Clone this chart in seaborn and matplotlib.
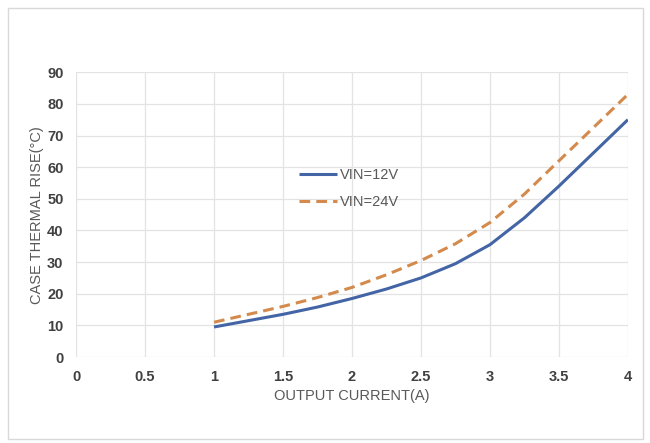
import matplotlib.pyplot as plt
import pandas as pd
import seaborn as sns
from matplotlib.patches import Rectangle

# データ
current = [1, 1.25, 1.5, 1.75, 2, 2.25, 2.5, 2.75, 3, 3.25, 3.5, 3.75, 4]
rise_12v = [9.5, 11.5, 13.5, 15.8, 18.5, 21.5, 25, 29.5, 35.5, 44, 54, 64.5, 75]
rise_24v = [11, 13.5, 16, 18.8, 22, 26, 30.5, 35.8, 42.5, 51.5, 62, 72.5, 83]
series_names = ["VIN=12V", "VIN=24V"]
x_ticks = [0, 0.5, 1, 1.5, 2, 2.5, 3, 3.5, 4]
y_ticks = [0, 10, 20, 30, 40, 50, 60, 70, 80, 90]

df = pd.DataFrame({
    "current": current * 2,
    "rise": rise_12v + rise_24v,
    "vin": [series_names[0]] * len(current) + [series_names[1]] * len(current),
})

sns.set_style("white")
plt.rcParams["font.family"] = ["Liberation Sans Narrow", "Liberation Sans", "DejaVu Sans"]

fig = plt.figure(figsize=(6.5, 4.43), dpi=100)
fig.patches.append(Rectangle((0.012, 0.008), 0.978, 0.975, transform=fig.transFigure,
                             fill=False, edgecolor="#d9d9d9", linewidth=1))
ax = fig.add_axes([0.117, 0.194, 0.849, 0.643])

sns.lineplot(
    data=df, x="current", y="rise", hue="vin", style="vin",
    palette=["#4465a5", "#d38a4c"], dashes=[(1, 0), (3.5, 2)],
    linewidth=2.2, ax=ax,
)

ax.set_xlim(0, 4)
ax.set_ylim(0, 90)
ax.set_xticks(x_ticks)
ax.set_xticklabels(["0", "0.5", "1", "1.5", "2", "2.5", "3", "3.5", "4"])
ax.set_yticks(y_ticks)
ax.grid(True, color="#e3e3e3", linewidth=0.9)
for s in ax.spines.values():
    s.set_visible(False)
ax.tick_params(length=0, labelsize=10.5, colors="#404040", pad=9)
for lbl in ax.get_xticklabels() + ax.get_yticklabels():
    lbl.set_fontweight("bold")

ax.set_xlabel("OUTPUT CURRENT(A)", fontsize=10.5, color="#595959", labelpad=4)
ax.set_ylabel("CASE THERMAL RISE(\u00b0C)", fontsize=10.5, color="#595959", labelpad=2)

ax.legend(loc="upper left", bbox_to_anchor=(0.38, 0.71), frameon=False,
          fontsize=10.5, labelcolor="#595959", handlelength=2.6,
          handletextpad=0.2, labelspacing=0.9, title=None)

fig.savefig("out.png", dpi=100)
